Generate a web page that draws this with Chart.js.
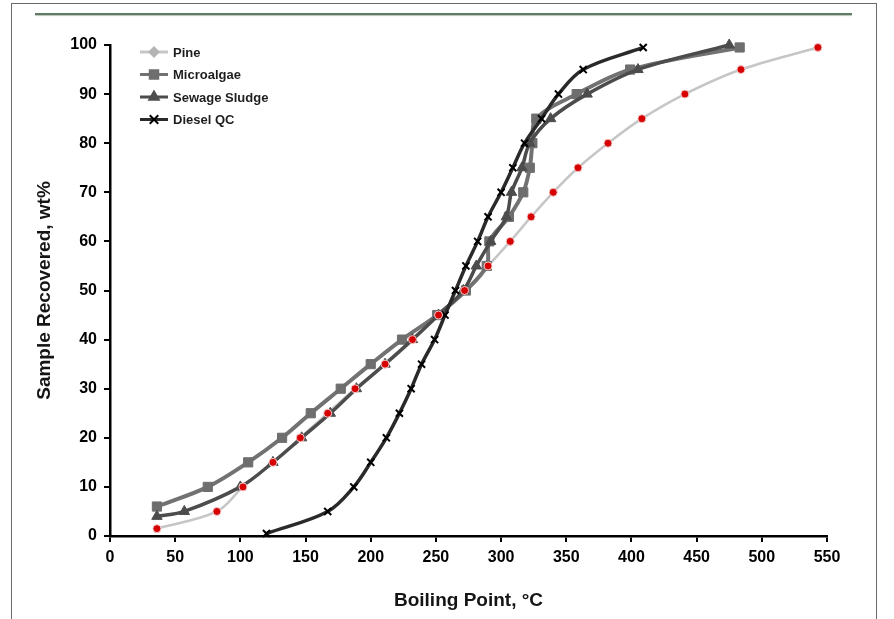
<!DOCTYPE html>
<html>
<head>
<meta charset="utf-8">
<script src="https://cdn.jsdelivr.net/npm/chart.js@4.4.1/dist/chart.umd.min.js"></script>
<style>
  html, body { margin: 0; padding: 0; background: #fff; }
  #wrap { position: relative; width: 894px; height: 619px; overflow: hidden; }
  #frame { position: absolute; left: 11px; top: 3px; width: 864px; height: 640px;
           border: 1.5px solid #6a6a6a; }
  #rule { position: absolute; left: 35px; top: 13px; width: 817px; height: 2px;
          background: #5f7d62; box-shadow: 0 1px 1px #b8c4b8; }
  canvas { position: absolute; left: 0; top: 0; }
</style>
</head>
<body>
<div id="wrap">
  <div id="frame"></div>
  <div id="rule"></div>
  <canvas id="chart" width="894" height="619"></canvas>
</div>
<script>
// Distillation curves: boiling point (°C) vs sample recovered (wt%)
const pineTemp = [36, 82, 102, 125, 146, 167, 188, 211, 232, 252, 272, 290, 307, 323, 340, 359, 382, 408, 441, 484, 543];
const pineRec = [1.5, 5, 10, 15, 20, 25, 30, 35, 40, 45, 50, 55, 60, 65, 70, 75, 80, 85, 90, 95, 99.5];

const microTemp = [36, 75, 106, 132, 154, 177, 200, 224, 251, 273, 289, 291, 306, 317, 322, 324, 327, 358, 399, 483];
const microRec = [6, 10, 15, 20, 25, 30, 35, 40, 45, 50, 55, 60, 65, 70, 75, 80, 85, 90, 95, 99.5];

const sludgeTemp = [36, 57, 100, 125, 147, 169, 189, 211, 232, 252, 271, 281, 292, 304, 308, 316, 322, 338, 366, 405, 475];
const sludgeRec = [4, 5, 10, 15, 20, 25, 30, 35, 40, 45, 50, 55, 60, 65, 70, 75, 80, 85, 90, 95, 100];

const dieselTemp = [120, 167, 187, 200, 212, 222, 231, 239, 249, 257, 265, 273, 282, 290, 300, 309, 318, 331, 344, 363, 409];
const dieselRec = [0.5, 5, 10, 15, 20, 25, 30, 35, 40, 45, 50, 55, 60, 65, 70, 75, 80, 85, 90, 95, 99.5];

const seriesNames = ['Pine', 'Microalgae', 'Sewage Sludge', 'Diesel QC'];
const xTicks = [0, 50, 100, 150, 200, 250, 300, 350, 400, 450, 500, 550];
const yTicks = [0, 10, 20, 30, 40, 50, 60, 70, 80, 90, 100];

const FONT = '"Liberation Sans", Arial, sans-serif';

function toPoints(xs, ys) {
    return xs.map((x, i) => ({ x: x, y: ys[i] }));
}

// legend marker per series (the pine legend keeps its grey diamond)
const legendMarks = {
    'Pine': { style: 'rectRot', fill: '#b4b4b4', radius: 4.5 },
    'Microalgae': { style: 'rect', fill: '#6e6e6e', radius: 6 },
    'Sewage Sludge': { style: 'triangle', fill: '#4e4e4e', radius: 5.5 },
    'Diesel QC': { style: 'crossRot', fill: '#000', radius: 6 }
};

const insideLegend = {
    id: 'insideLegend',
    afterDraw(chart) {
        const ctx = chart.ctx;
        const area = chart.chartArea;
        const drawPoint = Chart.helpers && Chart.helpers.drawPoint;
        const shown = chart.data.datasets.filter(ds => !ds.noLegend);
        shown.forEach((ds, i) => {
            const y = area.top + 7 + i * 22.5;
            const x0 = area.left + 30;
            ctx.save();
            ctx.strokeStyle = ds.borderColor;
            ctx.lineWidth = 3;
            ctx.beginPath();
            ctx.moveTo(x0, y);
            ctx.lineTo(x0 + 28, y);
            ctx.stroke();
            const m = legendMarks[ds.label];
            ctx.fillStyle = m.fill;
            ctx.strokeStyle = m.fill;
            ctx.lineWidth = 2;
            if (drawPoint) {
                drawPoint(ctx, { pointStyle: m.style, radius: m.radius, borderWidth: 2, rotation: 0 }, x0 + 14, y);
            }
            ctx.fillStyle = '#1e1e1e';
            ctx.font = 'bold 13px ' + FONT;
            ctx.textBaseline = 'middle';
            ctx.textAlign = 'left';
            ctx.fillText(ds.label, x0 + 33, y + 1);
            ctx.restore();
        });
    }
};

// lower "order" is drawn on top: pine line at the bottom, pine dots over everything
const datasets = [
    {
        label: seriesNames[0],
        data: toPoints(pineTemp, pineRec),
        order: 9,
        borderColor: '#c6c6c6',
        borderWidth: 2.5,
        pointRadius: 0
    },
    {
        label: seriesNames[1],
        data: toPoints(microTemp, microRec),
        order: 3,
        borderColor: '#727272',
        borderWidth: 4,
        pointStyle: 'rect',
        pointRadius: 6.5,
        pointBackgroundColor: '#6e6e6e',
        pointBorderColor: '#6e6e6e',
        pointBorderWidth: 1
    },
    {
        label: seriesNames[2],
        data: toPoints(sludgeTemp, sludgeRec),
        order: 2,
        borderColor: '#4c4c4c',
        borderWidth: 3.5,
        pointStyle: 'triangle',
        pointRadius: 6,
        pointBackgroundColor: '#4c4c4c',
        pointBorderColor: '#4c4c4c',
        pointBorderWidth: 1
    },
    {
        label: seriesNames[3],
        data: toPoints(dieselTemp, dieselRec),
        order: 1,
        borderColor: '#2a2a2a',
        borderWidth: 3.5,
        pointStyle: 'crossRot',
        pointRadius: 5,
        pointBorderColor: '#000',
        pointBorderWidth: 2
    },
    {
        label: seriesNames[0] + ' points',
        noLegend: true,
        data: toPoints(pineTemp, pineRec),
        order: 0,
        showLine: false,
        pointStyle: 'circle',
        pointRadius: 4,
        pointBackgroundColor: '#d60000',
        pointBorderColor: '#f2caca',
        pointBorderWidth: 1
    }
];

new Chart(document.getElementById('chart'), {
    type: 'line',
    data: { datasets: datasets },
    options: {
        responsive: false,
        animation: false,
        clip: false,
        tension: 0.35,
        layout: { padding: { top: 45, right: 67, bottom: 0, left: 0 } },
        plugins: {
            legend: { display: false },
            tooltip: { enabled: false }
        },
        scales: {
            x: {
                type: 'linear',
                min: 0,
                max: 550,
                afterFit(scale) { scale.height = 83; },
                afterBuildTicks(scale) { scale.ticks = xTicks.map(v => ({ value: v })); },
                ticks: { color: '#000', padding: 6, font: { family: FONT, size: 16, weight: 'bold' } },
                grid: { drawOnChartArea: false, drawTicks: true, tickLength: 6, color: '#000', lineWidth: 2 },
                border: { color: '#000', width: 2.5 },
                title: {
                    display: true,
                    text: 'Boiling Point, °C',
                    color: '#151515',
                    font: { family: FONT, size: 19, weight: 'bold' },
                    padding: { top: 0, bottom: 7 }
                }
            },
            y: {
                type: 'linear',
                min: 0,
                max: 100,
                afterFit(scale) { scale.width = 110; },
                afterBuildTicks(scale) { scale.ticks = yTicks.map(v => ({ value: v })); },
                ticks: { color: '#000', padding: 7, font: { family: FONT, size: 16, weight: 'bold' } },
                grid: { drawOnChartArea: false, drawTicks: true, tickLength: 6, color: '#000', lineWidth: 2 },
                border: { color: '#000', width: 2.5 },
                title: {
                    display: true,
                    text: 'Sample Recovered, wt%',
                    color: '#151515',
                    font: { family: FONT, size: 19, weight: 'bold' },
                    padding: { top: 33, bottom: 0 }
                }
            }
        }
    },
    plugins: [insideLegend]
});
</script>
</body>
</html>
